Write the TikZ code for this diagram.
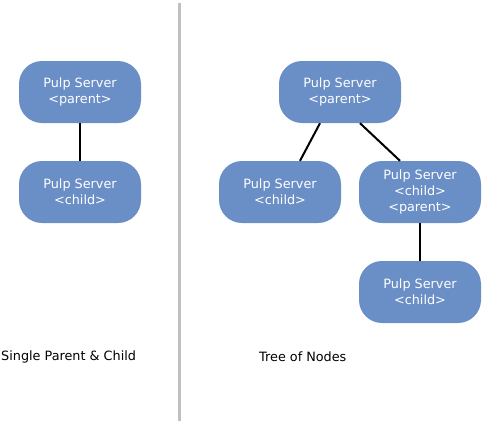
\documentclass[tikz,border=0pt]{standalone}
\usepackage{fontspec}
\setmainfont{DejaVu Sans}
\definecolor{boxblue}{HTML}{6A8EC6}
\definecolor{divider}{HTML}{C0C0C0}
\begin{document}
\begin{tikzpicture}[x=1pt,y=-1pt,
  server/.style={rectangle, rounded corners=23pt, fill=boxblue, text=white,
    minimum width=122pt, minimum height=62pt, inner sep=0pt, align=center,
    font=\fontsize{12.8pt}{16pt}\selectfont},
  link/.style={line width=2pt, black},
  caption/.style={anchor=west, inner sep=0pt, font=\fontsize{12.8pt}{15pt}\selectfont}]
\useasboundingbox (0,0) rectangle (483,426);
\coordinate (dtop) at (179.5,3);
\coordinate (dbot) at (179.5,421);
\draw[divider, line width=3pt] (dtop) -- (dbot);
% left
\node[server] (lp) at (80,92) {Pulp Server\\<parent>};
\node[server] (lc) at (80,192) {Pulp Server\\<child>};
\draw[link] (lp) -- (lc);
% right
\node[server] (rp) at (340,92) {Pulp Server\\<parent>};
\node[server] (rl) at (280,192) {Pulp Server\\<child>};
\node[server] (rr) at (420,192) {Pulp Server\\<child>\\<parent>};
\node[server] (rb) at (420,292) {Pulp Server\\<child>};
\draw[link] ([xshift=-20pt]rp.south) -- ([xshift=20pt]rl.north);
\draw[link] ([xshift=20pt]rp.south) -- ([xshift=-20pt]rr.north);
\draw[link] (rr) -- (rb);
% captions
\node[caption] (cap1) at (1,357) {Single Parent \& Child};
\node[caption] (cap2) at (259,357) {Tree of Nodes};
\end{tikzpicture}
\end{document}
